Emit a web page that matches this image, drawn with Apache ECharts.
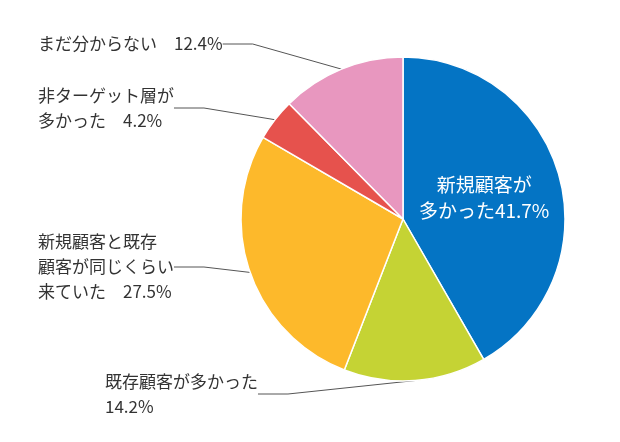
<!DOCTYPE html>
<html>
<head>
<meta charset="utf-8">
<script src="https://cdn.jsdelivr.net/npm/echarts@6/dist/echarts.min.js"></script>
<style>html,body{margin:0;background:#fff}#chart{width:620px;height:442px}</style>
</head>
<body>
<div id="chart"></div>
<script>
// 来店客の傾向
var names = ["新規顧客が\n多かった", "既存顧客が多かった\n", "新規顧客と既存\n顧客が同じくらい\n来ていた　", "非ターゲット層が\n多かった　", "まだ分からない　"];
var values = [41.7, 14.2, 27.5, 4.2, 12.4];
var colors = ["#0474C4", "#C5D334", "#FDB92B", "#E6524D", "#E897BF"];
// ラベル位置（外側のみ）
var labelPos = [null, [105, 394], [38, 267], [38, 108], [38, 44]];

var chart = echarts.init(document.getElementById("chart"));
var data = names.map(function (n, i) {
  var d = { name: n, value: values[i], itemStyle: { color: colors[i] } };
  if (i === 0) {
    d.label = { position: "inside", color: "#fff", fontSize: 19, lineHeight: 26, align: "center", offset: [0, 0] };
    d.labelLine = { show: false };
  }
  return d;
});
chart.setOption({
  animation: false,
  series: [{
    type: "pie",
    center: [403, 219],
    radius: [0, 162],
    startAngle: 90,
    clockwise: true,
    itemStyle: { borderColor: "#fff", borderWidth: 1.5 },
    label: {
      show: true,
      position: "outside",
      color: "#333",
      fontSize: 17,
      lineHeight: 25,
      fontFamily: "Noto Sans CJK JP",
      formatter: function (p) { return p.name + p.value.toFixed(1) + "%"; },
      align: "left"
    },
    labelLine: { show: true, length: 15, length2: 30, lineStyle: { color: "#555", width: 1 } },
    labelLayout: function (p) {
      var pos = labelPos[p.dataIndex];
      if (!pos) return {};
      return { x: pos[0], y: pos[1], align: "left", verticalAlign: "middle" };
    },
    data: data
  }]
});
</script>
</body>
</html>
